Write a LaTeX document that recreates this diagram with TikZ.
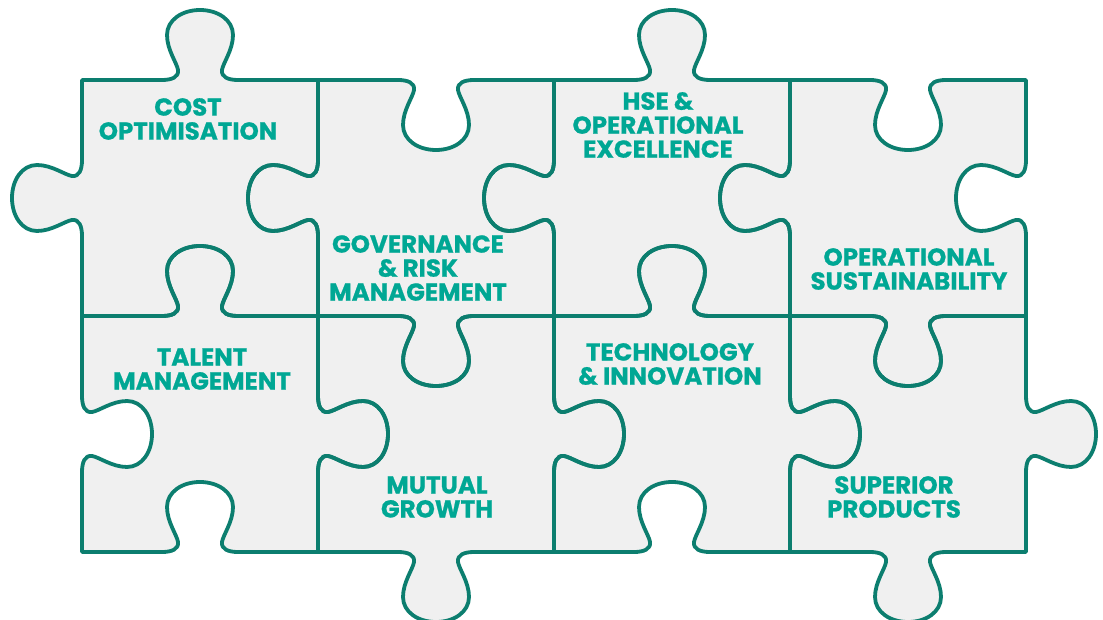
\documentclass[tikz,border=0pt]{standalone}
\usepackage{fontspec}
\setmainfont{Poppins}[BoldFeatures={FakeBold=0.8}]
\definecolor{edgecol}{HTML}{0C7E6F}
\definecolor{piecefill}{HTML}{F0F0F0}
\definecolor{txtcol}{HTML}{00A794}
\newcommand\tb[2]{-- ([shift={#1},rotate=#2]80,0) .. controls ([shift={#1},rotate=#2]90,0) and ([shift={#1},rotate=#2]97,3) .. ([shift={#1},rotate=#2]96,10) .. controls ([shift={#1},rotate=#2]95,17) and ([shift={#1},rotate=#2]85,30) .. ([shift={#1},rotate=#2]85,45) .. controls ([shift={#1},rotate=#2]85,60) and ([shift={#1},rotate=#2]100,70) .. ([shift={#1},rotate=#2]118,70) .. controls ([shift={#1},rotate=#2]136,70) and ([shift={#1},rotate=#2]151,60) .. ([shift={#1},rotate=#2]151,45) .. controls ([shift={#1},rotate=#2]151,30) and ([shift={#1},rotate=#2]141,17) .. ([shift={#1},rotate=#2]140,10) .. controls ([shift={#1},rotate=#2]139,3) and ([shift={#1},rotate=#2]146,0) .. ([shift={#1},rotate=#2]156,0) -- ([shift={#1},rotate=#2]236,0)}
\newcommand\sk[2]{-- ([shift={#1},rotate=#2]80,0) .. controls ([shift={#1},rotate=#2]90,0) and ([shift={#1},rotate=#2]97,-3) .. ([shift={#1},rotate=#2]96,-10) .. controls ([shift={#1},rotate=#2]95,-17) and ([shift={#1},rotate=#2]85,-30) .. ([shift={#1},rotate=#2]85,-45) .. controls ([shift={#1},rotate=#2]85,-60) and ([shift={#1},rotate=#2]100,-70) .. ([shift={#1},rotate=#2]118,-70) .. controls ([shift={#1},rotate=#2]136,-70) and ([shift={#1},rotate=#2]151,-60) .. ([shift={#1},rotate=#2]151,-45) .. controls ([shift={#1},rotate=#2]151,-30) and ([shift={#1},rotate=#2]141,-17) .. ([shift={#1},rotate=#2]140,-10) .. controls ([shift={#1},rotate=#2]139,-3) and ([shift={#1},rotate=#2]146,0) .. ([shift={#1},rotate=#2]156,0) -- ([shift={#1},rotate=#2]236,0)}
% piece: #1 x, #2 y (top-left), #3 top, #4 right, #5 bottom, #6 left (each \tb or \sk)
\newcommand\piece[7]{%
  \path[#7] (#1,#2) #3{(#1,#2)}{0} #4{($(#1,#2)+(236,0)$)}{-90} #5{($(#1,#2)+(236,-236)$)}{180} #6{($(#1,#2)+(0,-236)$)}{90} -- cycle;}
\tikzset{
  pfill/.style={fill=piecefill},
  pdraw/.style={draw=edgecol, line width=3.8pt, line join=round},
  lbl/.style={text=txtcol, font=\fontsize{24.5}{24}\selectfont\bfseries, align=center, inner sep=0pt}
}
\usetikzlibrary{calc}
\begin{document}
\begin{tikzpicture}[x=1pt,y=1pt]
\useasboundingbox (0,0) rectangle (1103,619);
\foreach \st in {pfill,pdraw}{
  \piece{82}{539}{\tb}{\sk}{\sk}{\tb}{\st}
  \piece{318}{539}{\sk}{\sk}{\tb}{\tb}{\st}
  \piece{554}{539}{\tb}{\sk}{\sk}{\tb}{\st}
  \piece{790}{539}{\sk}{\sk}{\tb}{\tb}{\st}
  \piece{82}{303}{\tb}{\tb}{\sk}{\sk}{\st}
  \piece{318}{303}{\sk}{\tb}{\tb}{\sk}{\st}
  \piece{554}{303}{\tb}{\tb}{\sk}{\sk}{\st}
  \piece{790}{303}{\sk}{\tb}{\tb}{\sk}{\st}
}
\node[lbl] (t1) at (188,500) {COST\\OPTIMISATION};
\node[lbl] (t2) at (418,351) {GOVERNANCE\\\& RISK\\MANAGEMENT};
\node[lbl] (t3) at (658,494) {HSE \&\\OPERATIONAL\\EXCELLENCE};
\node[lbl] (t4) at (909,350) {OPERATIONAL\\SUSTAINABILITY};
\node[lbl] (t5) at (202,250) {TALENT\\MANAGEMENT};
\node[lbl] (t6) at (437,122) {MUTUAL\\GROWTH};
\node[lbl] (t7) at (670,255) {TECHNOLOGY\\\& INNOVATION};
\node[lbl] (t8) at (894,122) {SUPERIOR\\PRODUCTS};
\end{tikzpicture}
\end{document}
